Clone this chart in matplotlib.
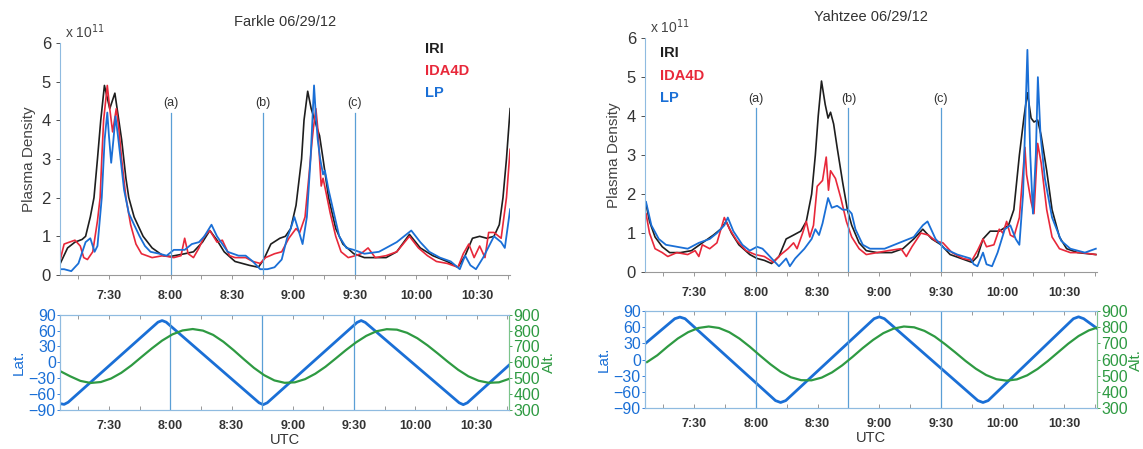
import numpy as np
import matplotlib
matplotlib.use("Agg")
import matplotlib.pyplot as plt

plt.rcParams['font.family'] = ['Liberation Sans', 'DejaVu Sans']

# times are minutes after 00:00 UTC
# ---------------- Farkle ----------------
f_iri_t = [425.7, 429.7, 433.3, 436.8, 438.5, 440.8, 442.6, 444.3, 445.9, 447.7, 450.3, 452.8,
           456.1, 458.2, 459.6, 462.2, 466.6, 471.0, 476.3, 480.0, 486.9, 491.2, 495.6, 499.2,
           502.7, 506.2, 511.5, 518.5, 522.9, 525.5, 529.0, 533.4, 536.1, 538.7, 541.3, 544.0,
           545.2, 547.0, 548.7, 551.0, 552.8, 554.5, 557.2, 560.7, 564.2, 569.5, 574.7, 585.3,
           590.5, 596.7, 602.0, 608.1, 615.1, 620.4, 623.9, 627.5, 631.0, 634.5, 638.0, 640.6,
           642.4, 644.1, 645.9]
f_iri_v = [0.25, 0.7, 0.85, 0.92, 1.0, 1.5, 2.0, 3.0, 4.0, 4.9, 4.3, 4.7,
           3.5, 2.5, 2.0, 1.5, 1.0, 0.7, 0.5, 0.48, 0.55, 0.6, 0.85, 1.15,
           0.9, 0.6, 0.35, 0.25, 0.2, 0.4, 0.8, 0.95, 1.0, 1.2, 1.8, 3.0,
           4.0, 4.75, 4.3, 3.9, 3.6, 3.0, 2.0, 1.2, 0.8, 0.55, 0.45, 0.45,
           0.6, 1.05, 0.7, 0.5, 0.35, 0.2, 0.5, 0.95, 1.0, 0.95, 1.0, 1.3,
           2.0, 3.0, 4.3]

f_ida_t = [425.7, 428.0, 430.6, 433.3, 435.9, 437.6, 439.4, 442.0, 444.3, 445.6, 446.4, 447.3,
           449.1, 450.3, 451.7, 453.5, 454.7, 456.1, 458.2, 460.5, 463.1, 465.8, 471.0, 476.3,
           481.6, 485.1, 486.9, 488.6, 491.2, 493.9, 496.5, 499.2, 502.7, 505.3, 508.8, 511.5,
           516.7, 520.2, 523.8, 526.4, 530.8, 534.3, 537.8, 541.3, 543.1, 545.7, 547.5, 549.2,
           549.8, 551.0, 551.9, 552.8, 553.6, 554.5, 555.7, 558.0, 560.7, 563.3, 566.8, 570.3,
           573.0, 576.5, 580.0, 585.3, 590.5, 596.7, 601.1, 605.5, 609.9, 615.1, 620.4, 623.0,
           625.7, 628.3, 631.0, 633.6, 635.4, 638.0, 641.5, 644.1, 645.9]
f_ida_v = [0.3, 0.8, 0.85, 0.9, 0.75, 0.45, 0.4, 0.6, 1.4, 2.0, 3.0, 4.0,
           4.9, 4.3, 3.7, 4.3, 3.8, 3.0, 2.0, 1.3, 0.8, 0.55, 0.45, 0.5,
           0.45, 0.5, 0.95, 0.55, 0.45, 0.7, 1.0, 1.15, 0.85, 0.9, 0.5, 0.45,
           0.45, 0.35, 0.3, 0.45, 0.55, 0.6, 0.95, 1.2, 1.1, 1.5, 2.5, 3.5,
           3.8, 4.3, 3.8, 3.0, 2.3, 2.5, 2.2, 1.6, 1.0, 0.6, 0.45, 0.5,
           0.55, 0.7, 0.45, 0.5, 0.6, 1.0, 0.7, 0.5, 0.35, 0.3, 0.2, 0.55,
           0.8, 0.45, 0.75, 0.45, 1.1, 1.1, 0.95, 2.0, 3.25]

f_lp_t = [425.7, 428.0, 431.5, 435.0, 438.5, 440.8, 442.9, 444.3, 446.4, 447.8, 449.1, 449.9,
          451.0, 452.1, 453.1, 454.3, 455.6, 457.3, 459.6, 462.2, 464.9, 467.5, 470.2, 474.6,
          478.1, 481.6, 486.9, 490.4, 493.9, 496.5, 500.0, 502.7, 505.3, 507.9, 513.2, 516.7,
          520.2, 523.8, 527.3, 530.8, 534.3, 536.9, 538.7, 540.5, 543.1, 544.5, 546.6, 548.4,
          550.1, 551.0, 551.9, 553.1, 554.5, 555.4, 557.2, 559.8, 562.4, 565.9, 569.5, 574.7,
          581.8, 585.3, 590.5, 597.6, 602.0, 606.4, 611.6, 616.9, 621.3, 623.9, 626.5, 629.2,
          632.7, 638.0, 641.5, 643.3, 645.9]
f_lp_v = [0.15, 0.15, 0.1, 0.3, 0.85, 0.95, 0.6, 0.75, 2.0, 3.5, 4.2, 3.6,
          2.9, 3.5, 4.1, 3.6, 3.0, 2.2, 1.6, 1.3, 1.0, 0.75, 0.6, 0.55,
          0.5, 0.65, 0.65, 0.8, 0.85, 1.0, 1.3, 1.0, 0.8, 0.6, 0.5, 0.5,
          0.35, 0.15, 0.15, 0.2, 0.4, 0.95, 1.2, 1.5, 1.05, 0.8, 1.5, 3.0,
          4.9, 4.1, 3.5, 3.0, 2.6, 2.7, 2.2, 1.6, 1.0, 0.7, 0.65, 0.55,
          0.6, 0.7, 0.85, 1.15, 0.85, 0.6, 0.45, 0.35, 0.15, 0.5, 0.25, 0.15,
          0.45, 1.0, 0.85, 0.7, 1.7]

f_lat_t = [426, 428, 430, 474, 476, 478, 523.5, 525.5, 527.5, 571.5, 573.5, 575.5,
           621.5, 623.5, 625.5, 646]
f_lat_v = [-78, -79.5, -75.5, 76, 79, 76, -76.5, -80, -76.5, 75.5, 79, 75.5,
           -76.5, -80, -76.5, -5]

f_alt_t = [426, 431, 436, 441, 446, 451, 456, 461, 466, 471, 476, 481, 486, 491,
           496, 501, 506, 511, 516, 521, 526, 531, 536, 541, 546, 551, 556, 561,
           566, 571, 576, 581, 586, 591, 596, 601, 606, 611, 616, 621, 626, 631,
           636, 641, 646]
f_alt_v = [545, 512, 483, 470, 476, 498, 534, 581, 635, 688, 737, 776, 801, 810,
           800, 773, 730, 677, 620, 565, 519, 486, 471, 474, 494, 528, 572, 624,
           677, 726, 767, 796, 809, 806, 786, 752, 707, 656, 603, 553, 512, 484,
           471, 474, 496]

# ---------------- Yahtzee ----------------
y_iri_t = [426.5, 428.2, 430.9, 434.4, 438.0, 443.3, 448.6, 453.9, 459.3, 462.8, 465.5, 468.1,
           471.7, 477.0, 480.5, 484.1, 487.6, 491.2, 494.7, 498.3, 501.8, 504.5, 507.1, 508.9,
           510.3, 511.9, 513.7, 515.1, 516.3, 517.8, 519.5, 522.2, 524.5, 526.6, 530.2, 533.7,
           539.0, 546.1, 551.5, 556.8, 561.2, 565.6, 570.1, 574.5, 579.8, 585.1, 587.8, 590.5,
           594.0, 598.4, 602.9, 605.5, 608.2, 610.5, 612.1, 613.9, 615.3, 617.1, 618.8, 621.5,
           624.1, 627.7, 631.2, 636.6, 645.4]
y_iri_v = [1.75, 1.3, 0.9, 0.65, 0.5, 0.5, 0.55, 0.75, 0.95, 1.1, 1.3, 1.0,
           0.7, 0.45, 0.35, 0.3, 0.22, 0.4, 0.85, 0.95, 1.05, 1.3, 2.0, 3.0,
           4.0, 4.9, 4.3, 3.95, 4.1, 3.8, 3.2, 2.3, 1.6, 1.2, 0.75, 0.55,
           0.5, 0.5, 0.6, 0.85, 1.1, 0.85, 0.7, 0.45, 0.35, 0.25, 0.4, 0.85,
           1.05, 1.05, 1.2, 1.6, 3.0, 4.0, 4.6, 3.95, 3.85, 3.9, 3.5, 2.6,
           1.6, 0.9, 0.6, 0.5, 0.45]

y_ida_t = [426.5, 428.2, 430.9, 434.4, 437.1, 441.5, 446.8, 450.4, 452.2, 453.9, 457.5, 461.0,
           464.6, 467.2, 470.8, 475.2, 479.6, 484.1, 488.5, 492.1, 495.6, 498.3, 500.0, 502.7,
           504.5, 506.2, 508.0, 509.8, 512.4, 514.2, 515.3, 516.3, 518.7, 521.3, 524.0, 526.6,
           530.2, 533.7, 539.0, 544.4, 550.6, 553.2, 555.9, 560.3, 563.9, 567.4, 571.0, 575.4,
           580.7, 585.1, 587.8, 590.5, 592.2, 595.8, 598.4, 600.2, 602.0, 603.8, 605.5, 608.2,
           610.9, 611.7, 613.9, 615.3, 617.1, 618.8, 621.5, 624.1, 627.7, 633.0, 638.3, 645.4]
y_ida_v = [1.5, 1.0, 0.6, 0.5, 0.4, 0.5, 0.45, 0.55, 0.4, 0.7, 0.6, 0.75,
           1.4, 1.1, 0.8, 0.55, 0.45, 0.4, 0.25, 0.45, 0.6, 0.75, 0.6, 1.0,
           1.3, 0.9, 1.2, 2.2, 2.35, 2.95, 2.1, 2.6, 2.4, 1.9, 1.3, 0.9,
           0.6, 0.45, 0.5, 0.55, 0.6, 0.4, 0.65, 1.0, 0.95, 0.8, 0.75, 0.5,
           0.35, 0.3, 0.55, 0.85, 0.65, 0.7, 1.1, 1.0, 1.3, 0.95, 0.9, 1.4,
           3.2, 2.5, 1.8, 1.5, 3.3, 2.8, 1.6, 0.9, 0.6, 0.5, 0.5, 0.45]

y_lp_t = [426.5, 429.1, 432.7, 436.2, 441.5, 446.8, 452.2, 457.5, 461.0, 464.6, 466.3, 469.0,
          473.4, 477.0, 480.5, 483.2, 485.9, 488.5, 491.2, 494.7, 496.5, 499.1, 503.6, 507.1,
          508.9, 510.7, 512.4, 515.1, 516.9, 519.5, 522.2, 524.9, 526.6, 528.4, 532.0, 535.5,
          542.6, 549.7, 556.8, 561.2, 563.5, 567.4, 571.8, 578.0, 584.3, 586.0, 587.8, 590.5,
          592.2, 594.9, 597.6, 601.1, 603.8, 606.4, 608.2, 610.0, 612.1, 613.5, 614.8, 616.2,
          617.2, 618.5, 620.6, 624.1, 628.6, 633.0, 640.1, 645.4]
y_lp_v = [1.8, 1.2, 0.85, 0.7, 0.65, 0.6, 0.75, 0.85, 1.0, 1.2, 1.4, 1.05,
          0.7, 0.55, 0.65, 0.6, 0.45, 0.3, 0.15, 0.35, 0.15, 0.35, 0.6, 0.85,
          1.1, 0.95, 1.25, 1.9, 1.65, 1.7, 1.6, 1.6, 1.5, 1.1, 0.7, 0.6,
          0.6, 0.75, 0.9, 1.2, 1.3, 0.85, 0.6, 0.45, 0.35, 0.2, 0.15, 0.5,
          0.2, 0.15, 0.5, 1.1, 1.2, 0.85, 0.7, 2.0, 5.7, 3.0, 1.5, 3.0,
          5.0, 3.5, 2.4, 1.4, 0.8, 0.6, 0.5, 0.6]

y_lat_t = [426.5, 440.5, 443, 445.5, 489.5, 492, 494.5, 537.5, 540, 542.5, 588, 590.5,
           593, 634.5, 637, 639.5, 646]
y_lat_v = [31, 76, 79, 76, -76, -79.5, -76, 76, 79.5, 76, -76, -79.5,
           -76, 76, 79.5, 76, 58]

y_alt_t = [427, 432, 437, 442, 447, 452, 457, 462, 467, 472, 477, 482, 487, 492,
           497, 502, 507, 512, 517, 522, 527, 532, 537, 542, 547, 552, 557, 562,
           567, 572, 577, 582, 587, 592, 597, 602, 607, 612, 617, 622, 627, 632,
           637, 642, 646]
y_alt_v = [585, 627, 681, 731, 770, 796, 805, 796, 770, 730, 680, 625, 572, 525,
           491, 473, 472, 489, 521, 565, 617, 672, 722, 764, 792, 805, 800, 778,
           743, 696, 645, 592, 544, 505, 479, 470, 478, 503, 542, 591, 645, 699,
           746, 781, 798]

events = [480, 525, 570]
event_labels = ['(a)', '(b)', '(c)']
tick_pos = [450, 480, 510, 540, 570, 600, 630]
tick_lab = ['7:30', '8:00', '8:30', '9:00', '9:30', '10:00', '10:30']

C_IRI = '#1e1e1e'
C_IDA = '#e8283a'
C_LP = '#1a6fd6'
C_LAT = '#1a6fd6'
C_ALT = '#2e9a42'
C_EV = '#5a9fd6'
C_FRAME = '#8fbbe0'
XMIN, XMAX = 426, 646

fig = plt.figure(figsize=(11.43, 4.49), dpi=100)


def density_panel(rect, title, iri, ida, lp, legend_xy):
    ax = fig.add_axes(rect)
    ax.plot(iri[0], iri[1], color=C_IRI, lw=1.2)
    ax.plot(ida[0], ida[1], color=C_IDA, lw=1.2)
    ax.plot(lp[0], lp[1], color=C_LP, lw=1.3)
    for t, lab in zip(events, event_labels):
        ax.plot([t, t], [0, 4.2], color=C_EV, lw=0.9)
        ax.text(t, 4.45, lab, ha='center', va='center', fontsize=9, color='#333333')
    ax.set_xlim(XMIN, XMAX)
    ax.set_ylim(0, 6)
    ax.set_xticks(tick_pos)
    ax.set_xticklabels(tick_lab, fontsize=9, fontweight='bold', color='#333333')
    ax.set_xticks(np.arange(435, 646, 15), minor=True)
    ax.set_yticks(range(7))
    ax.tick_params(axis='y', labelsize=12, colors='#333333', length=3, width=0.6)
    ax.tick_params(axis='x', which='both', length=3, width=0.6, colors='#888888',
                   labelcolor='#333333', pad=8)
    for s in ['top', 'right']:
        ax.spines[s].set_visible(False)
    ax.spines['left'].set_color(C_FRAME)
    ax.spines['bottom'].set_color('#999999')
    ax.set_ylabel('Plasma Density', fontsize=11, color='#444444', labelpad=4)
    ax.set_title(title, fontsize=10.5, color='#333333', pad=12)
    ax.text(0.01, 1.01, r'x 10$^{11}$', transform=ax.transAxes, fontsize=10,
            color='#444444', ha='left', va='bottom')
    lx, ly = legend_xy
    for k, (name, c) in enumerate([('IRI', C_IRI), ('IDA4D', C_IDA), ('LP', C_LP)]):
        ax.text(lx, ly - k * 0.095, name, transform=ax.transAxes, color=c,
                fontsize=10.5, fontweight='bold', ha='left', va='center')
    return ax


def orbit_panel(rect, lat, alt):
    ax = fig.add_axes(rect)
    ax.plot(lat[0], lat[1], color=C_LAT, lw=2.0)
    for t in events:
        ax.axvline(t, color=C_EV, lw=0.9)
    ax.set_xlim(XMIN, XMAX)
    ax.set_ylim(-90, 90)
    ax.set_yticks([-90, -60, -30, 0, 30, 60, 90])
    ax.set_xticks(tick_pos)
    ax.set_xticklabels(tick_lab, fontsize=9, fontweight='bold', color='#333333')
    ax.set_xticks(np.arange(435, 646, 15), minor=True)
    ax.tick_params(axis='y', labelsize=11.5, colors=C_LAT, length=2, width=0.6, pad=1)
    ax.tick_params(axis='x', which='both', length=3, width=0.6, colors='#888888',
                   labelcolor='#333333', top=True, direction='in', pad=7)
    for s in ax.spines.values():
        s.set_color(C_FRAME)
        s.set_linewidth(0.8)
    ax.set_ylabel('Lat.', fontsize=11, color=C_LAT, labelpad=2)
    ax.set_xlabel('UTC', fontsize=10.5, color='#333333', labelpad=1)
    ax2 = ax.twinx()
    ax2.plot(alt[0], alt[1], color=C_ALT, lw=1.6)
    ax2.set_ylim(300, 900)
    ax2.set_yticks(range(300, 901, 100))
    ax2.tick_params(axis='y', labelsize=11.5, colors=C_ALT, length=2, width=0.6, pad=1)
    for s in ax2.spines.values():
        s.set_color(C_FRAME)
        s.set_linewidth(0.8)
    ax2.spines['right'].set_color('#7cc48a')
    ax2.set_ylabel('Alt.', fontsize=11, color=C_ALT, rotation=90, labelpad=1)
    return ax


density_panel([0.0525, 0.3875, 0.394, 0.517], 'Farkle 06/29/12',
              (f_iri_t, f_iri_v), (f_ida_t, f_ida_v), (f_lp_t, f_lp_v), (0.81, 0.975))
orbit_panel([0.0525, 0.087, 0.393, 0.212], (f_lat_t, f_lat_v), (f_alt_t, f_alt_v))

density_panel([0.5643, 0.394, 0.3955, 0.521], 'Yahtzee 06/29/12',
              (y_iri_t, y_iri_v), (y_ida_t, y_ida_v), (y_lp_t, y_lp_v), (0.033, 0.935))
orbit_panel([0.5643, 0.091, 0.3955, 0.216], (y_lat_t, y_lat_v), (y_alt_t, y_alt_v))

fig.savefig('out.png', dpi=100)
